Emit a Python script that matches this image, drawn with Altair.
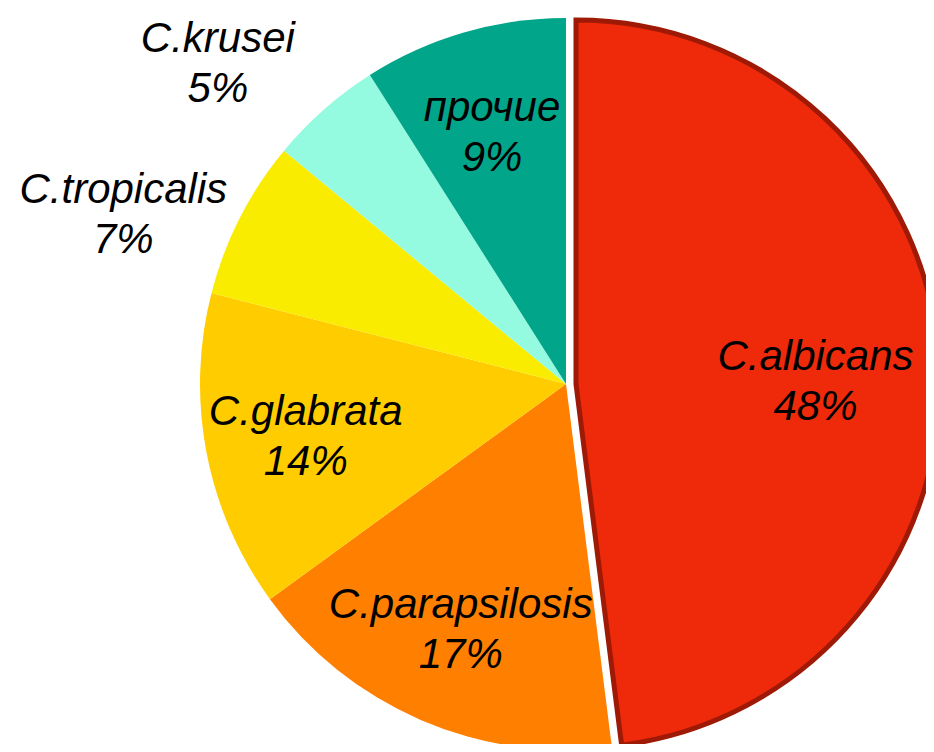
import math
import altair as alt
import pandas as pd

names = ["C.albicans", "C.parapsilosis", "C.glabrata", "C.tropicalis", "C.krusei", "прочие"]
shares = [48, 17, 14, 7, 5, 9]
colors = ["#EE2A0B", "#FF7F00", "#FFCC00", "#F9EC00", "#95FBE0", "#00A58A"]
inside_names = ["C.parapsilosis", "C.glabrata", "прочие"]
outside_names = ["C.tropicalis", "C.krusei"]
exploded_name = "C.albicans"

df = pd.DataFrame({"name": names, "share": shares})
df["end"] = df["share"].cumsum()
df["start"] = df["end"] - df["share"]
df["mid"] = (df["start"] + df["end"]) / 2
df["label"] = df["name"] + "\n" + df["share"].astype(str) + "%"

CX, CY, R, EXPLODE = 558, 376, 366, 10

theta_scale = alt.Scale(domain=[0, 100], range=[0, 2 * math.pi])
color = alt.Color("name:N", scale=alt.Scale(domain=names, range=colors), legend=None)

base = alt.Chart(df)

rest = base.transform_filter(alt.datum.name != exploded_name).mark_arc(
    radius=R, stroke=None
).encode(
    theta=alt.Theta("start:Q", scale=theta_scale),
    theta2="end:Q",
    color=color,
    x=alt.value(CX),
    y=alt.value(CY),
)

albicans = base.transform_filter(alt.datum.name == exploded_name).mark_arc(
    radius=R - 2, stroke="#9E1A06", strokeWidth=5, strokeJoin="miter"
).encode(
    theta=alt.Theta("start:Q", scale=theta_scale),
    theta2="end:Q",
    color=color,
    x=alt.value(CX + EXPLODE),
    y=alt.value(CY),
)

text_style = dict(font="Liberation Sans", fontSize=42, fontStyle="italic",
                  lineBreak="\n", lineHeight=50, color="black",
                  align="center", baseline="middle")

label_albicans = base.transform_filter(alt.datum.name == exploded_name).mark_text(
    radius=240, dy=-12, **text_style
).encode(
    theta=alt.Theta("mid:Q", scale=theta_scale),
    text="label:N",
    x=alt.value(CX + EXPLODE),
    y=alt.value(CY),
)

label_inside = base.transform_filter(
    alt.FieldOneOfPredicate(field="name", oneOf=inside_names)
).mark_text(radius=265, dy=-22, **text_style).encode(
    theta=alt.Theta("mid:Q", scale=theta_scale),
    text="label:N",
    x=alt.value(CX),
    y=alt.value(CY),
)

label_outside = base.transform_filter(
    alt.FieldOneOfPredicate(field="name", oneOf=outside_names)
).mark_text(radius=475, thetaOffset=-0.1, dy=-22, **text_style).encode(
    theta=alt.Theta("mid:Q", scale=theta_scale),
    text="label:N",
    x=alt.value(CX),
    y=alt.value(CY),
)

chart = alt.layer(rest, albicans, label_albicans, label_inside, label_outside).properties(
    width=918, height=736, padding=0,
    autosize=alt.AutoSizeParams(type="none"),
).configure_view(stroke=None)

chart.save("out.html", embed_options={"renderer": "svg", "actions": False})
